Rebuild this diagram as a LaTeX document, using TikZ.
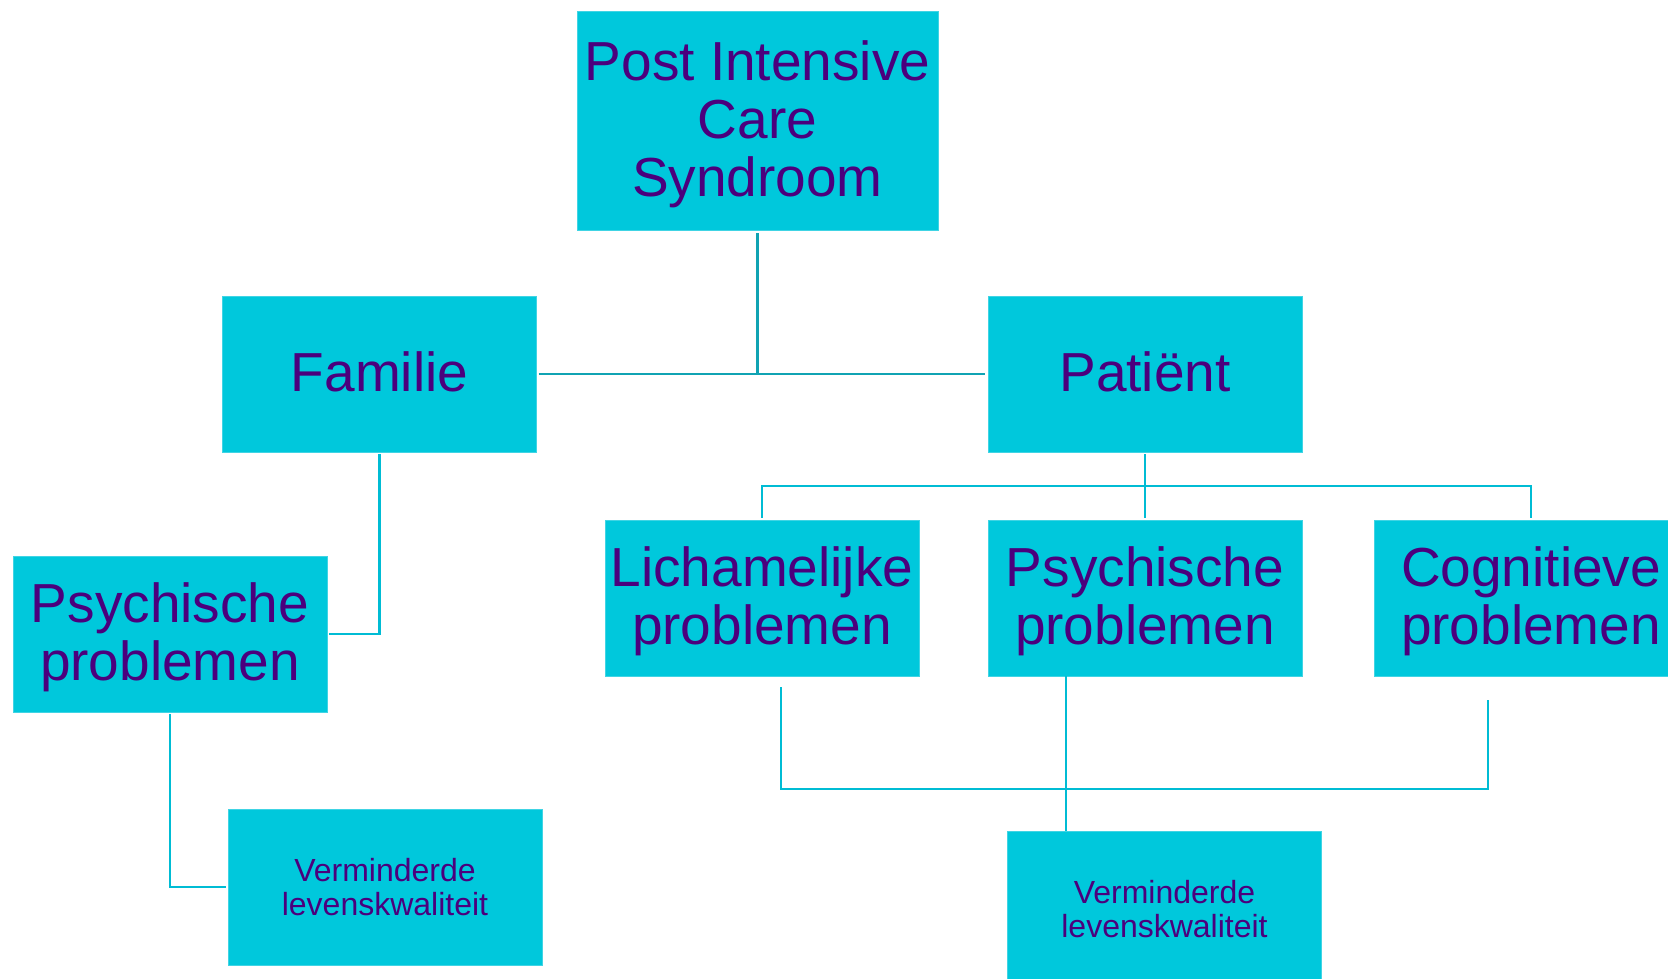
\documentclass[tikz,border=0pt]{standalone}
\usepackage{fontspec}
\setmainfont{Liberation Sans}
\definecolor{boxfill}{HTML}{00C8DC}
\definecolor{boxedge}{HTML}{40D4E4}
\definecolor{txt}{HTML}{4B007D}
\definecolor{linedark}{HTML}{10A3B3}
\definecolor{linecyan}{HTML}{00BCD4}
\newcommand{\upstrut}[1]{\rule{0pt}{#1}}
\newcommand{\dnstrut}[1]{\rule[-#1]{0pt}{#1}}
\begin{document}
\begin{tikzpicture}[x=1pt,y=-1pt,
  box/.style={rectangle, fill=boxfill, draw=boxedge, line width=0.8pt, text=txt, align=center,
    minimum width=314pt, minimum height=156pt, inner sep=0pt, font=\fontsize{55}{58}\selectfont},
  small/.style={box, font=\fontsize{32}{34.5}\selectfont},
  conn/.style={draw=linecyan, line width=2.2pt},
  conndark/.style={draw=linedark, line width=2.2pt}]
\fill[white] (0,0) rectangle (1668,979);
\useasboundingbox (0,0) rectangle (1668,979);
\clip (0,0) rectangle (1668,979);

\node[box, minimum width=361pt, minimum height=219pt] (top) at (757.5,120.5) {\upstrut{48pt}Post Intensive\\Care\\Syndroom};
\node[box] (fam) at (379.5,374) {Familie\dnstrut{4pt}};
\node[box] (pat) at (1145,374) {Patiënt\dnstrut{4pt}};
\node[box] (lich) at (762,598) {\upstrut{46pt}Lichamelijke\\problemen};
\node[box] (psy2) at (1145,598) {\upstrut{46pt}Psychische\\problemen};
\node[box] (cog) at (1531,598) {\upstrut{46pt}Cognitieve\\problemen};
\node[box] (psy1) at (170,634) {\upstrut{47pt}Psychische\\problemen};
\node[small] (verm1) at (385,887) {Verminderde\\levenskwaliteit};
\node[small] (verm2) at (1164.5,909) {Verminderde\\levenskwaliteit};

% top connectors
\draw[conndark] ([yshift=-3pt]top.south) -- (top.south |- fam.east);
\draw[conndark] ([xshift=2pt]fam.east) -- ([xshift=-3pt]pat.west);

% patient to its three children
\coordinate (bar) at (0,486);
\draw[conn] ([yshift=-2pt]pat.south) -- ([yshift=2pt]psy2.north);
\draw[conn] ([yshift=2pt]lich.north) -- (lich.north |- bar) -- (cog.north |- bar) -- ([yshift=2pt]cog.north);

% familie branch
\draw[conn] ([yshift=-2pt]fam.south) |- ([xshift=2pt]psy1.east);
\draw[conn] ([yshift=-2pt]psy1.south) |- ([xshift=-2pt]verm1.west);

% lower right connectors
\coordinate (lowbar) at (0,789);
\coordinate (lichout) at ([xshift=19pt,yshift=-11pt]lich.south);
\coordinate (cogout) at ([xshift=-43pt,yshift=-24pt]cog.south);
\draw[conn, line width=2.8pt] (lichout) -- (lichout |- lowbar) -- (cogout |- lowbar) -- (cogout);
\coordinate (psyout) at ([xshift=-79pt]psy2.south);
\draw[conn] (psyout) -- (psyout |- verm2.north);
\end{tikzpicture}
\end{document}
